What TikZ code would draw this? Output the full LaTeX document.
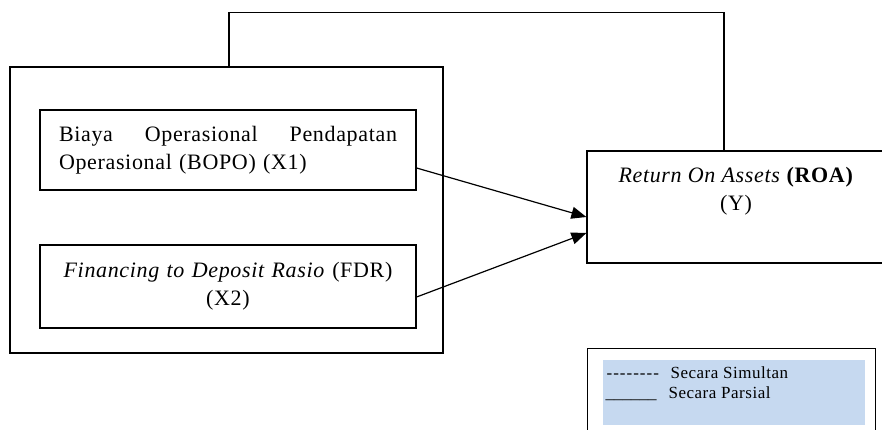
\documentclass[tikz,border=0pt]{standalone}
\usepackage{fontspec}
\setmainfont{Liberation Serif}[LetterSpace=3]
\newfontfamily\dashfont{Liberation Serif}[LetterSpace=6, Ligatures=TeXOff]
\newfontfamily\rulefont{Liberation Serif}[Ligatures=TeXOff]
\usepackage{tikz}
\usetikzlibrary{arrows.meta, positioning}
\definecolor{legendblue}{RGB}{198,217,240}

\begin{document}
\begin{tikzpicture}[x=1pt, y=-1pt, line width=1.2pt,
    font=\fontsize{22}{28}\selectfont,
    varbox/.style={draw, rectangle, inner sep=0pt},
    arr/.style={-{Triangle[length=15pt,width=12pt]}},
    legendtext/.style={anchor=base west, inner sep=0pt, font=\fontsize{17}{20}\selectfont}]
  \useasboundingbox (0,0) rectangle (882,430);
  % frame round both independent variables
  \node[varbox, minimum width=433, minimum height=286] (frame) at (226.5,210) {};
  \node[varbox, minimum width=376, minimum height=80, text width=338, inner xsep=19pt, align=left]
    (bopo) at (228,150) {Biaya\hfill Operasional\hfill Pendapatan\\Operasional (BOPO) (X1)};
  \node[varbox, minimum width=376, minimum height=83, text width=338, inner xsep=19pt, align=center]
    (fdr) at (228,286.5) {\textit{Financing to Deposit Rasio} (FDR)\\(X2)};
  \node[varbox, minimum width=298, minimum height=112, align=center]
    (roa) at (736,207) {\textit{Return On Assets} \textbf{(ROA)}\\(Y)\\\strut};
  % arrows
  \draw[arr] ([yshift=-18pt]bopo.east) -- ([yshift=-10pt]roa.west);
  \draw[arr] ([yshift=-10.5pt]fdr.east) -- ([yshift=-26pt]roa.west);
  \draw ([xshift=2.5pt]frame.north) -- ++(0,-54) -| ([xshift=-12pt]roa.north);
  % legend
  \node[varbox, minimum width=288, minimum height=92, anchor=north west] (legend) at (587,348) {};
  \node[fill=legendblue, inner sep=0pt, minimum width=262, minimum height=65, anchor=north west]
    (legendfill) at (602,359) {};
  \node[legendtext] (simdash) at (606,378) {\dashfont --------};
  \node[legendtext] (simtext) at (670,378) {Secara Simultan};
  \node[legendtext] (pardash) at (605,398) {\rulefont \_\_\_\_\_\_};
  \node[legendtext] (partext) at (668,398) {Secara Parsial};
\end{tikzpicture}
\end{document}
